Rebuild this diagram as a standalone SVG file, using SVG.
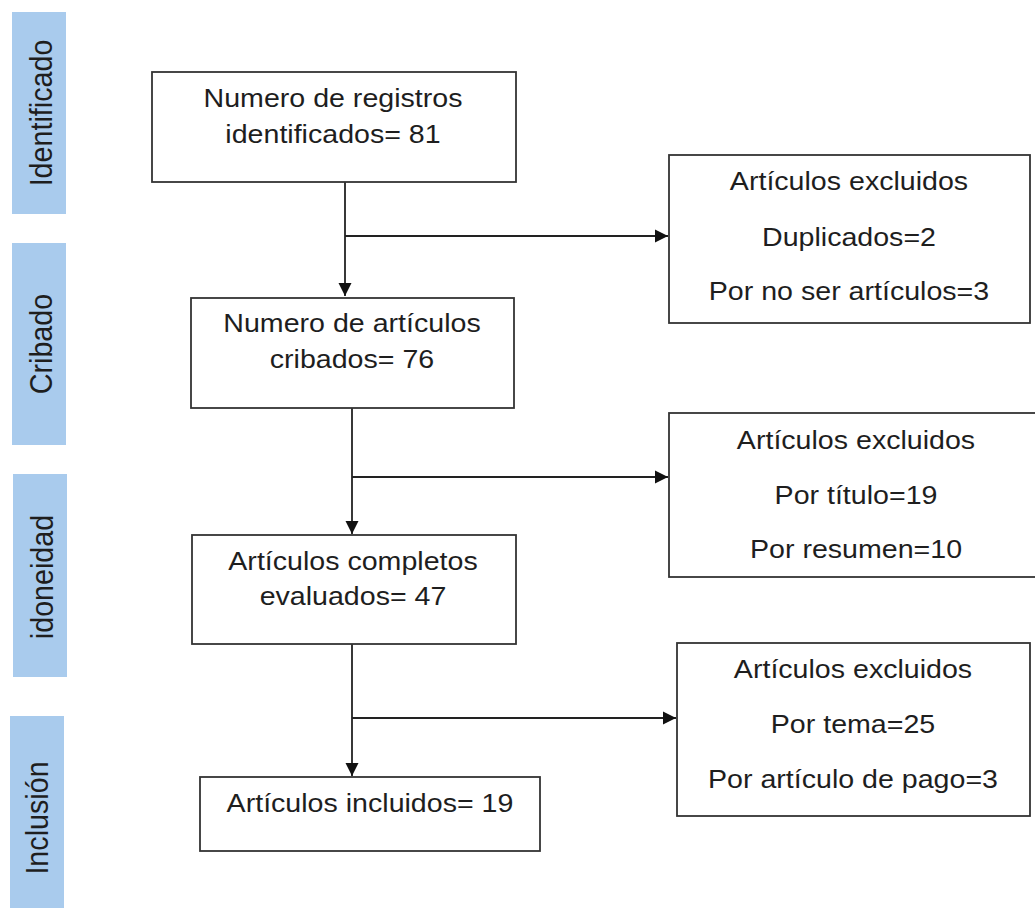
<svg xmlns="http://www.w3.org/2000/svg" width="1035" height="908" viewBox="0 0 1035 908">
<style>
.bar{fill:#a9cbed;}
.box{fill:#ffffff;stroke:#333333;stroke-width:1.8;}
.t{font-family:"Liberation Sans",Arial,sans-serif;font-size:25.6px;fill:#1e1e1e;text-anchor:middle;}
.s{font-family:"Liberation Sans",Arial,sans-serif;font-size:28.7px;fill:#1e1e1e;text-anchor:middle;}
.ln{fill:none;stroke:#222222;stroke-width:1.8;}
</style>
<defs>
<marker id="ah" markerUnits="userSpaceOnUse" markerWidth="14" markerHeight="14" viewBox="0 0 14 14" refX="13" refY="7" orient="auto">
<path d="M0,0.5 L13,7 L0,13.5 Z" fill="#111111"/>
</marker>
</defs>
<rect width="1035" height="908" fill="#ffffff"/>
<g id="stage-identificado">
<rect class="bar" x="12" y="12" width="54" height="202"/>
<text class="s" transform="translate(52,113) scale(1.117,1) rotate(-90)">Identificado</text>
</g>
<g id="stage-cribado">
<rect class="bar" x="12" y="243" width="54" height="202"/>
<text class="s" transform="translate(52,344) scale(1.117,1) rotate(-90)">Cribado</text>
</g>
<g id="stage-idoneidad">
<rect class="bar" x="13" y="474" width="54" height="203"/>
<text class="s" transform="translate(53,577) scale(1.117,1) rotate(-90)">idoneidad</text>
</g>
<g id="stage-inclusion">
<rect class="bar" x="10" y="716" width="54" height="192"/>
<text class="s" transform="translate(48,818) scale(1.117,1) rotate(-90)">Inclusión</text>
</g>
<g id="connectors">
<path class="ln" d="M345,182 V296" marker-end="url(#ah)"/>
<path class="ln" d="M345,236 H668" marker-end="url(#ah)"/>
<path class="ln" d="M352,408 V534" marker-end="url(#ah)"/>
<path class="ln" d="M352,477 H668" marker-end="url(#ah)"/>
<path class="ln" d="M352,644 V776" marker-end="url(#ah)"/>
<path class="ln" d="M352,718 H676" marker-end="url(#ah)"/>
</g>
<g id="n-identificados">
<rect class="box" x="152" y="72" width="364" height="110"/>
<text class="t" transform="translate(333,106.7) scale(1.117,1)">Numero de registros</text>
<text class="t" transform="translate(333,143) scale(1.117,1)">identificados= 81</text>
</g>
<g id="n-cribados">
<rect class="box" x="191" y="298" width="323" height="110"/>
<text class="t" transform="translate(352,331.7) scale(1.117,1)">Numero de artículos</text>
<text class="t" transform="translate(352,368) scale(1.117,1)">cribados= 76</text>
</g>
<g id="n-evaluados">
<rect class="box" x="192" y="535" width="324" height="109"/>
<text class="t" transform="translate(353,570) scale(1.117,1)">Artículos completos</text>
<text class="t" transform="translate(353,605) scale(1.117,1)">evaluados= 47</text>
</g>
<g id="n-incluidos">
<rect class="box" x="200" y="777" width="340" height="74"/>
<text class="t" transform="translate(370,811.7) scale(1.117,1)">Artículos incluidos= 19</text>
</g>
<g id="x-1">
<rect class="box" x="669" y="155" width="361" height="168"/>
<text class="t" transform="translate(849,190) scale(1.117,1)">Artículos excluidos</text>
<text class="t" transform="translate(849,246) scale(1.117,1)">Duplicados=2</text>
<text class="t" transform="translate(849,300) scale(1.117,1)">Por no ser artículos=3</text>
</g>
<g id="x-2">
<rect class="box" x="669" y="413" width="376" height="164"/>
<text class="t" transform="translate(856,449) scale(1.117,1)">Artículos excluidos</text>
<text class="t" transform="translate(856,504) scale(1.117,1)">Por título=19</text>
<text class="t" transform="translate(856,558) scale(1.117,1)">Por resumen=10</text>
</g>
<g id="x-3">
<rect class="box" x="677" y="643" width="353" height="173"/>
<text class="t" transform="translate(853,678) scale(1.117,1)">Artículos excluidos</text>
<text class="t" transform="translate(853,733) scale(1.117,1)">Por tema=25</text>
<text class="t" transform="translate(853,788) scale(1.117,1)">Por artículo de pago=3</text>
</g>
</svg>
